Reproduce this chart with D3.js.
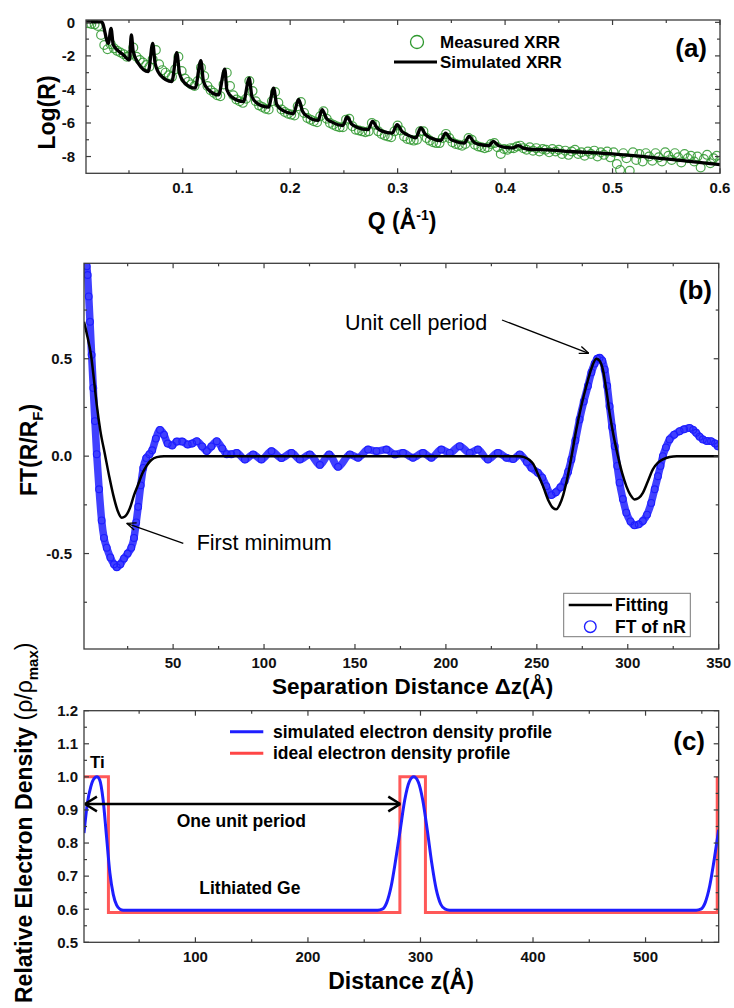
<!DOCTYPE html>
<html>
<head>
<meta charset="utf-8">
<script src="https://cdn.jsdelivr.net/npm/d3@7"></script>
<style>
  html, body { margin: 0; padding: 0; background: #fff; }
  svg { display: block; font-family: "Liberation Sans", Arial, sans-serif; }
</style>
</head>
<body>
<svg id="chart" width="734" height="1008"></svg>
<script>
// ---------------- Panel (a): X-ray reflectivity ----------------
// Measured XRR, sampled on a uniform Q grid
const Q_START = 0.012, Q_STEP = 0.003;
const logRMeasured = [
  -0.05, -0.10, -0.12, -0.22, -0.75, -1.35, -1.60, -1.30, -1.55, -1.70,
  -1.80, -1.90, -2.05, -1.95, -1.50, -2.05, -2.25, -2.40, -2.55, -2.65,
  -2.20, -1.65, -2.50, -2.85, -3.00, -3.15, -3.25, -2.80, -2.05, -2.90,
  -3.35, -3.55, -3.70, -3.80, -3.50, -2.70, -3.20, -3.80, -4.05, -4.20,
  -4.35, -4.40, -3.70, -3.00, -3.80, -4.35, -4.60, -4.70, -4.80, -4.55,
  -3.50, -4.10, -4.70, -4.95, -5.05, -5.15, -5.20, -4.70, -4.15, -4.80,
  -5.20, -5.35, -5.45, -5.50, -5.55, -5.00, -4.75, -5.40, -5.70, -5.80,
  -5.90, -5.95, -5.60, -5.30, -5.75, -6.00, -6.10, -6.20, -6.25, -6.25,
  -5.80, -5.75, -6.20, -6.40, -6.45, -6.50, -6.55, -6.50, -6.00, -6.10,
  -6.50, -6.65, -6.75, -6.80, -6.85, -6.50, -6.15, -6.45, -6.80, -6.95,
  -7.00, -7.05, -7.00, -6.50, -6.50, -6.90, -7.05, -7.15, -7.20, -7.20,
  -6.90, -6.65, -6.90, -7.15, -7.25, -7.30, -7.35, -7.25, -6.90, -7.00,
  -7.30, -7.40, -7.45, -7.50, -7.45, -7.25, -7.20, -7.45, -7.85, -7.55,
  -7.60, -7.50, -7.50, -7.40, -7.35, -7.50, -7.60, -7.45, -7.65, -7.50,
  -7.70, -7.55, -7.60, -7.75, -7.55, -7.70, -7.60, -7.85, -7.65, -7.90,
  -7.70, -7.60, -7.85, -7.75, -7.95, -7.70, -7.85, -7.65, -8.00, -7.75,
  -7.90, -7.70, -8.05, -7.75, -8.45, -8.80, -7.80, -8.10, -8.85, -7.75,
  -8.20, -7.85, -8.30, -7.80, -8.00, -8.25, -7.80, -8.05, -8.30, -7.75,
  -7.95, -8.20, -7.80, -8.05, -8.35, -7.85, -8.10, -7.95, -8.30, -8.00,
  -8.65, -8.15, -7.90, -8.40, -8.10, -7.95, -8.25
];
const qMeasured = logRMeasured.map((_, i) => Q_START + i * Q_STEP);

// Simulated XRR (fit) vertices
const qSim = [
  0.010, 0.0246, 0.0308, 0.0333, 0.0354, 0.0448, 0.0504, 0.0522, 0.0540, 0.0587,
  0.0680, 0.0721, 0.0743, 0.0790, 0.0899, 0.0945, 0.0970, 0.1020, 0.1116, 0.1169,
  0.1193, 0.1240, 0.1333, 0.1392, 0.1411, 0.1458, 0.1566, 0.1619, 0.1644, 0.1690,
  0.1799, 0.1846, 0.1875, 0.1930, 0.2030, 0.2079, 0.2115, 0.2160, 0.2260, 0.2297,
  0.2340, 0.2390, 0.2490, 0.2530, 0.2570, 0.2620, 0.2725, 0.2766, 0.2810, 0.2860,
  0.2950, 0.2995, 0.3040, 0.3090, 0.3170, 0.3215, 0.3260, 0.3310, 0.3400, 0.3446,
  0.3490, 0.3540, 0.3620, 0.3665, 0.3710, 0.3760, 0.3850, 0.3890, 0.3940, 0.4000,
  0.4070, 0.4125, 0.4170, 0.4250, 0.4400, 0.4600, 0.5000, 0.5500, 0.6000
];
const logRSim = [
  0.03, 0.03, -1.25, -0.36, -1.35, -1.94, -2.24, -0.75, -1.75, -2.44,
  -2.93, -1.25, -2.44, -3.13, -3.53, -1.80, -3.03, -3.63, -3.92, -2.28,
  -3.53, -4.02, -4.32, -2.79, -4.02, -4.46, -4.72, -3.33, -4.42, -4.81,
  -5.05, -3.92, -4.90, -5.25, -5.45, -4.60, -5.30, -5.60, -5.85, -5.20,
  -5.75, -5.95, -6.15, -5.64, -6.05, -6.25, -6.40, -5.90, -6.30, -6.50,
  -6.60, -6.10, -6.50, -6.70, -6.88, -6.30, -6.70, -6.90, -7.05, -6.60,
  -6.95, -7.10, -7.20, -6.80, -7.15, -7.28, -7.35, -7.10, -7.35, -7.45,
  -7.48, -7.35, -7.50, -7.58, -7.60, -7.70, -7.84, -8.14, -8.48
];
const xTicksA = [0.1, 0.2, 0.3, 0.4, 0.5, 0.6];
const yTicksA = [0, -2, -4, -6, -8];

// ---------------- Panel (b): Fourier transform ----------------
const zFT = [
  2.5, 3.0, 3.6, 4.3, 5.2, 6.1, 7.0, 8.0, 9.3, 10.7,
  12.0, 13.5, 15.5, 17.5, 19.0, 21.0, 23.0, 25.0, 27.0, 28.5,
  29.7, 30.8, 32.2, 33.6, 35.2, 37.0, 38.5, 40.5, 42.8, 45.0,
  47.0, 49.5, 52.0, 55.0, 58.0, 60.5, 63.0, 66.0, 68.5, 71.0,
  74.0, 77.0, 79.5, 82.0, 85.0, 89.5, 94.0, 98.6, 104.1, 109.6,
  115.1, 119.7, 125.2, 130.7, 135.8, 140.7, 147.2, 151.7, 157.2, 161.8,
  167.3, 171.9, 176.4, 181.9, 187.4, 192.0, 197.5, 202.1, 207.6, 213.1,
  217.6, 223.1, 228.6, 233.3, 237.0, 240.6, 244.5, 247.0, 250.6, 253.0,
  255.2, 258.0, 260.5, 263.0, 265.3, 267.2, 269.0, 271.2, 273.5, 275.8,
  278.1, 280.0, 281.8, 283.2, 284.5, 286.0, 287.3, 288.7, 290.0, 291.4,
  292.8, 294.2, 295.5, 297.3, 299.2, 301.5, 303.7, 306.0, 308.3, 310.6,
  312.9, 314.8, 316.6, 318.0, 319.3, 321.0, 323.0, 325.5, 328.5, 331.0,
  334.0, 336.0, 337.6, 339.5, 341.3, 343.5, 345.8, 348.0, 349.5
];
const ftMeasured = [
  0.975, 0.93, 0.82, 0.69, 0.52, 0.35, 0.18, 0.01, -0.17, -0.33,
  -0.42, -0.47, -0.52, -0.555, -0.57, -0.555, -0.525, -0.50, -0.47, -0.42,
  -0.34, -0.26, -0.15, -0.06, -0.01, 0.01, 0.03, 0.09, 0.135, 0.11,
  0.065, 0.055, 0.075, 0.075, 0.06, 0.065, 0.077, 0.05, 0.026, 0.05,
  0.077, 0.04, 0.01, 0.01, 0.017, -0.017, 0.009, -0.017, 0.026, -0.01,
  0.017, -0.017, 0.009, -0.045, 0.009, -0.055, 0.009, -0.008, 0.034, 0.026,
  0.034, 0.009, 0.017, -0.008, 0.017, -0.008, 0.034, 0.017, 0.051, 0.017,
  0.034, -0.017, 0.017, -0.008, -0.015, 0.009, -0.03, -0.06, -0.085, -0.11,
  -0.154, -0.20, -0.185, -0.16, -0.128, -0.08, -0.017, 0.08, 0.188, 0.28,
  0.36, 0.43, 0.475, 0.50, 0.505, 0.49, 0.445, 0.36, 0.256, 0.15,
  0.051, -0.05, -0.136, -0.22, -0.29, -0.335, -0.355, -0.35, -0.333, -0.30,
  -0.24, -0.17, -0.103, -0.05, 0.0, 0.045, 0.086, 0.11, 0.128, 0.138,
  0.145, 0.135, 0.12, 0.10, 0.086, 0.078, 0.077, 0.065, 0.051
];
const zFit = [
  1.0, 2.5, 5.0, 6.5, 8.0, 10.0, 12.5, 15.0, 17.1, 19.5,
  21.7, 23.5, 26.3, 28.5, 30.8, 33.0, 35.4, 38.0, 41.0, 45.0,
  240.0, 243.0, 246.0, 248.0, 250.5, 253.4, 256.5, 258.8, 260.7, 262.5,
  264.5, 266.2, 268.5, 271.7, 274.5, 277.2, 280.0, 282.7, 284.5, 286.3,
  288.2, 290.0, 292.3, 294.6, 297.0, 299.2, 301.5, 303.7, 306.0, 308.3,
  311.0, 313.8, 316.5, 319.3, 323.0, 327.0, 350.0
];
const ftFit = [
  0.69, 0.63, 0.51, 0.39, 0.265, 0.13, 0.01, -0.11, -0.20, -0.28,
  -0.316, -0.31, -0.265, -0.20, -0.145, -0.09, -0.05, -0.02, -0.005, 0.0,
  0.0, -0.005, -0.02, -0.04, -0.09, -0.154, -0.23, -0.265, -0.273, -0.25,
  -0.20, -0.137, -0.03, 0.137, 0.26, 0.36, 0.45, 0.50, 0.49, 0.445,
  0.34, 0.222, 0.10, 0.0, -0.09, -0.154, -0.20, -0.222, -0.215, -0.188,
  -0.13, -0.068, -0.035, -0.017, -0.004, 0.0, 0.0
];
const xTicksB = [50, 100, 150, 200, 250, 300, 350];
const yTicksB = [0.5, 0.0, -0.5];

// ---------------- Panel (c): electron density profiles ----------------
const zProfile = [
  1, 4, 7, 10, 12.5, 15, 18, 21, 24, 27,
  30, 33, 36, 40, 262, 266, 270, 274, 278, 282,
  286, 290, 294, 298, 302, 306, 310, 314, 318, 322,
  326, 545, 549, 553, 557, 561, 565
];
const rhoSimulated = [
  0.83, 0.92, 0.97, 0.995, 1.0, 0.99, 0.93, 0.82, 0.71, 0.645,
  0.612, 0.60, 0.597, 0.597, 0.597, 0.60, 0.62, 0.67, 0.75, 0.84,
  0.93, 0.985, 1.0, 0.985, 0.93, 0.84, 0.74, 0.66, 0.615, 0.60,
  0.597, 0.597, 0.60, 0.62, 0.67, 0.75, 0.84
];
const zIdeal = [1, 22.7, 22.7, 281.7, 281.7, 304.4, 304.4, 563.7, 563.7];
const rhoIdeal = [1.0, 1.0, 0.59, 0.59, 1.0, 1.0, 0.59, 0.59, 1.0];
const xTicksC = [100, 200, 300, 400, 500];
const yTicksC = [0.5, 0.6, 0.7, 0.8, 0.9, 1.0, 1.1, 1.2];

// ---------------- drawing ----------------
const svg = d3.select("#chart");
const AXIS = "#3c3c3c";
const GREEN = "#2e982e";
const BLUE = "#1e1eff";
const RED = "#ff4646";

function seg(g, x1, y1, x2, y2, w = 1.2, c = AXIS) {
  g.append("line").attr("x1", x1).attr("y1", y1).attr("x2", x2).attr("y2", y2)
    .attr("stroke", c).attr("stroke-width", w);
}

function frame(g, x, y, o) {
  const [x0, x1] = x.range();
  const [yb, yt] = y.range();
  g.append("rect").attr("x", x0).attr("y", yt).attr("width", x1 - x0).attr("height", yb - yt)
    .attr("fill", "none").attr("stroke", AXIS).attr("stroke-width", 1.3);
  const all = (major, minor) => major.map(v => [v, 5]).concat(minor.map(v => [v, 3]));
  all(o.xMajor, o.xMinor).forEach(([v, L]) => {
    const p = x(v);
    seg(g, p, yb, p, yb - L); seg(g, p, yt, p, yt + L);
  });
  all(o.yMajor, o.yMinor).forEach(([v, L]) => {
    const p = y(v);
    seg(g, x0, p, x0 + L, p); seg(g, x1, p, x1 - L, p);
  });
  o.xMajor.forEach(v => {
    g.append("text").attr("x", x(v)).attr("y", yb + o.xLabelDy).attr("text-anchor", "middle")
      .attr("font-size", 15).attr("font-weight", "bold").attr("fill", "#111").text(o.xFmt(v));
  });
  o.yMajor.forEach(v => {
    g.append("text").attr("x", x0 - o.yLabelGap).attr("y", y(v) + 5.3).attr("text-anchor", "end")
      .attr("font-size", 15).attr("font-weight", "bold").attr("fill", "#111").text(o.yFmt(v));
  });
}

function arrowHead(g, tipX, tipY, fromX, fromY, len, spread, w) {
  const a = Math.atan2(tipY - fromY, tipX - fromX);
  [a + Math.PI - spread, a + Math.PI + spread].forEach(b => {
    seg(g, tipX, tipY, tipX + len * Math.cos(b), tipY + len * Math.sin(b), w, "#000");
  });
}

const fmt1 = v => v.toFixed(1);
const fmtInt = v => String(v);

// ===== Panel (a) =====
const xA = d3.scaleLinear().domain([0.01, 0.6]).range([86, 720]);
const yA = d3.scaleLinear().domain([-9, 0.14]).range([173.3, 20]);
const gA = svg.append("g");
svg.append("clipPath").attr("id", "clipA").append("rect")
  .attr("x", 86).attr("y", 20).attr("width", 634).attr("height", 153.3);

gA.append("g").attr("clip-path", "url(#clipA)")
  .selectAll("circle").data(qMeasured.map((q, i) => [q, logRMeasured[i]])).join("circle")
  .attr("cx", d => xA(d[0])).attr("cy", d => yA(d[1])).attr("r", 4.4)
  .attr("fill", "none").attr("stroke", GREEN).attr("stroke-width", 1.2).attr("stroke-opacity", 0.85);

gA.append("path").attr("clip-path", "url(#clipA)")
  .datum(qSim.map((q, i) => [q, logRSim[i]]))
  .attr("d", d3.line().x(d => xA(d[0])).y(d => yA(d[1])).curve(d3.curveMonotoneX))
  .attr("fill", "none").attr("stroke", "#000").attr("stroke-width", 3.3).attr("stroke-linejoin", "round");

frame(gA, xA, yA, {
  xMajor: xTicksA, xMinor: [0.05, 0.15, 0.25, 0.35, 0.45, 0.55],
  yMajor: yTicksA, yMinor: [-1, -3, -5, -7],
  xFmt: fmt1, yFmt: fmtInt, xLabelDy: 19.5, yLabelGap: 11
});

// legend (a)
gA.append("circle").attr("cx", 417).attr("cy", 42).attr("r", 6.5)
  .attr("fill", "none").attr("stroke", GREEN).attr("stroke-width", 1.3);
gA.append("text").attr("x", 440).attr("y", 48).attr("font-size", 17).attr("font-weight", "bold").text("Measured XRR");
seg(gA, 394, 62, 437, 62, 3, "#000");
gA.append("text").attr("x", 440).attr("y", 68).attr("font-size", 17).attr("font-weight", "bold").text("Simulated XRR");
gA.append("text").attr("x", 707).attr("y", 57).attr("text-anchor", "end").attr("font-size", 26).attr("font-weight", "bold").text("(a)");

// axis titles (a)
gA.append("text").attr("transform", "translate(55,112.5) rotate(-90)").attr("text-anchor", "middle")
  .attr("font-size", 23).attr("font-weight", "bold").text("Log(R)");
const qt = gA.append("text").attr("x", 402).attr("y", 229).attr("text-anchor", "middle")
  .attr("font-size", 23).attr("font-weight", "bold");
qt.append("tspan").text("Q (Å");
qt.append("tspan").attr("dy", -9).attr("font-size", 14).text("-1");
qt.append("tspan").attr("dy", 9).text(")");

// ===== Panel (b) =====
const xB = d3.scaleLinear().domain([1, 350]).range([84, 718.7]);
const yB = d3.scaleLinear().domain([-0.99, 0.99]).range([649, 263.3]);
const gB = svg.append("g");
svg.append("clipPath").attr("id", "clipB").append("rect")
  .attr("x", 84).attr("y", 263.3).attr("width", 634.7).attr("height", 385.7);
const ftPts = zFT.map((z, i) => [z, ftMeasured[i]]);
const lineB = d3.line().x(d => xB(d[0])).y(d => yB(d[1])).curve(d3.curveMonotoneX);
const gBd = gB.append("g").attr("clip-path", "url(#clipB)");
gBd.append("path").datum(ftPts).attr("d", lineB)
  .attr("fill", "none").attr("stroke", BLUE).attr("stroke-width", 7.5).attr("stroke-opacity", 0.85)
  .attr("stroke-linejoin", "round").attr("stroke-linecap", "round");
gBd.selectAll("circle").data(ftPts).join("circle")
  .attr("cx", d => xB(d[0])).attr("cy", d => yB(d[1])).attr("r", 3.4)
  .attr("fill", "none").attr("stroke", BLUE).attr("stroke-width", 1.1);
gBd.append("path").datum(zFit.map((z, i) => [z, ftFit[i]])).attr("d", lineB)
  .attr("fill", "none").attr("stroke", "#000").attr("stroke-width", 2.5);

frame(gB, xB, yB, {
  xMajor: xTicksB, xMinor: [25, 75, 125, 175, 225, 275, 325],
  yMajor: yTicksB, yMinor: [0.75, 0.25, -0.25, -0.75],
  xFmt: fmtInt, yFmt: fmt1, xLabelDy: 18.5, yLabelGap: 12
});

// annotations (b)
gB.append("text").attr("x", 345).attr("y", 330).attr("font-size", 21.5).text("Unit cell period");
seg(gB, 502, 320, 588.7, 353.3, 1.3, "#000");
arrowHead(gB, 588.7, 353.3, 502, 320, 10, 0.38, 1.3);
gB.append("text").attr("x", 196.7).attr("y", 550).attr("font-size", 21.5).text("First minimum");
seg(gB, 183.3, 543.3, 126.7, 523.3, 1.3, "#000");
arrowHead(gB, 126.7, 523.3, 183.3, 543.3, 10, 0.38, 1.3);

// legend (b)
gB.append("rect").attr("x", 563.7).attr("y", 593.3).attr("width", 126.6).attr("height", 43.4)
  .attr("fill", "#fff").attr("stroke", "#777").attr("stroke-width", 1);
seg(gB, 568.7, 605, 612, 605, 2.5, "#000");
gB.append("text").attr("x", 615).attr("y", 611).attr("font-size", 17.5).attr("font-weight", "bold").text("Fitting");
gB.append("circle").attr("cx", 590.3).attr("cy", 626.7).attr("r", 5.8)
  .attr("fill", "none").attr("stroke", BLUE).attr("stroke-width", 1.4);
gB.append("text").attr("x", 615).attr("y", 632.7).attr("font-size", 17.5).attr("font-weight", "bold").text("FT of nR");
gB.append("text").attr("x", 712).attr("y", 299).attr("text-anchor", "end").attr("font-size", 26).attr("font-weight", "bold").text("(b)");

// axis titles (b)
const ft = gB.append("text").attr("transform", "translate(37,450) rotate(-90)").attr("text-anchor", "middle")
  .attr("font-size", 23).attr("font-weight", "bold");
ft.append("tspan").text("FT(R/R");
ft.append("tspan").attr("dy", 6).attr("font-size", 15).text("F");
ft.append("tspan").attr("dy", -6).text(")");
gB.append("text").attr("x", 412.7).attr("y", 694).attr("text-anchor", "middle")
  .attr("font-size", 22.5).attr("font-weight", "bold").text("Separation Distance \u0394z(\u00C5)");

// ===== Panel (c) =====
const xC = d3.scaleLinear().domain([1, 565]).range([84, 718.7]);
const yC = d3.scaleLinear().domain([0.5, 1.2]).range([942.3, 710.7]);
const gC = svg.append("g");
svg.append("clipPath").attr("id", "clipC").append("rect")
  .attr("x", 84).attr("y", 710.7).attr("width", 634.7).attr("height", 231.6);
const lineC = d3.line().x(d => xC(d[0])).y(d => yC(d[1]));
const gCd = gC.append("g").attr("clip-path", "url(#clipC)");
gCd.append("path").datum(zIdeal.map((z, i) => [z, rhoIdeal[i]])).attr("d", lineC)
  .attr("fill", "none").attr("stroke", RED).attr("stroke-width", 3).attr("stroke-opacity", 0.9);
gCd.append("path").datum(zProfile.map((z, i) => [z, rhoSimulated[i]]))
  .attr("d", lineC.curve(d3.curveMonotoneX))
  .attr("fill", "none").attr("stroke", BLUE).attr("stroke-width", 3);

frame(gC, xC, yC, {
  xMajor: xTicksC, xMinor: [50, 150, 250, 350, 450, 550],
  yMajor: yTicksC, yMinor: [0.55, 0.65, 0.75, 0.85, 0.95, 1.05, 1.15],
  xFmt: fmtInt, yFmt: fmt1, xLabelDy: 19.4, yLabelGap: 6
});

// period arrow
const arrowZ = [1, 282], arrowRho = 0.918;
const ax1 = xC(arrowZ[0]) + 1, ax2 = xC(arrowZ[1]), ay = yC(arrowRho);
seg(gC, ax1, ay, ax2, ay, 2.5, "#000");
arrowHead(gC, ax1, ay, ax2, ay, 14, 0.55, 2.5);
arrowHead(gC, ax2, ay, ax1, ay, 14, 0.55, 2.5);

gC.append("text").attr("x", 90).attr("y", 768).attr("font-size", 17).attr("font-weight", "bold").text("Ti");
gC.append("text").attr("x", 176.7).attr("y", 827).attr("font-size", 17.5).attr("font-weight", "bold").text("One unit period");
gC.append("text").attr("x", 199.3).attr("y", 894).attr("font-size", 17.5).attr("font-weight", "bold").text("Lithiated Ge");

// legend (c)
seg(gC, 230, 731.7, 263.3, 731.7, 3, BLUE);
gC.append("text").attr("x", 273).attr("y", 737.7).attr("font-size", 17.5).attr("font-weight", "bold").text("simulated electron density profile");
seg(gC, 230, 753.3, 263.3, 753.3, 3, RED);
gC.append("text").attr("x", 273).attr("y", 759.3).attr("font-size", 17.5).attr("font-weight", "bold").text("ideal electron density profile");
gC.append("text").attr("x", 705).attr("y", 750).attr("text-anchor", "end").attr("font-size", 26).attr("font-weight", "bold").text("(c)");

// axis titles (c)
const rt = gC.append("text").attr("transform", "translate(32,1003) rotate(-90)").attr("text-anchor", "start")
  .attr("font-size", 23).attr("font-weight", "bold");
rt.append("tspan").text("Relative Electron Density ");
rt.append("tspan").attr("font-weight", "normal").text("(\u03C1/\u03C1");
rt.append("tspan").attr("dy", 6).attr("font-size", 15).text("max");
rt.append("tspan").attr("dy", -6).attr("font-weight", "normal").text(")");
gC.append("text").attr("x", 401).attr("y", 989).attr("text-anchor", "middle")
  .attr("font-size", 23).attr("font-weight", "bold").text("Distance z(\u00C5)");
</script>
</body>
</html>
